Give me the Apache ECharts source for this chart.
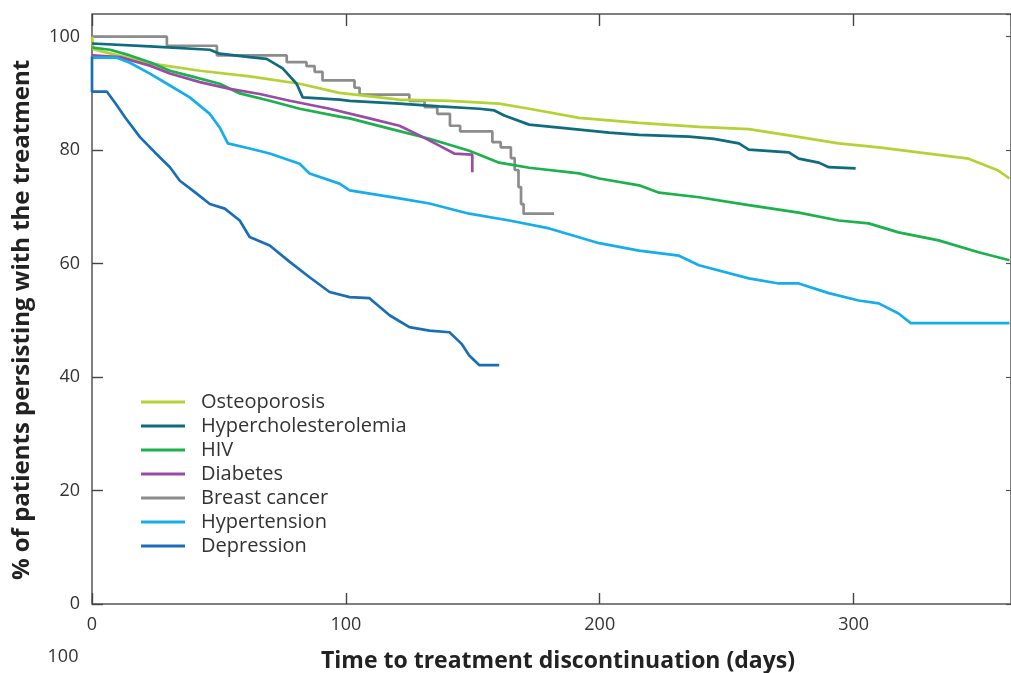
<!DOCTYPE html>
<html><head><meta charset="utf-8">
<script src="https://cdn.jsdelivr.net/npm/echarts@6/dist/echarts.min.js"></script>
<style>html,body{margin:0;padding:0;background:#fff}#c{width:1011px;height:673px}</style>
</head><body><div id="c"></div><script>
// ---- data (days, % persisting) ----
const seriesNames = ['Osteoporosis','Hypercholesterolemia','HIV','Diabetes','Breast cancer','Hypertension','Depression'];
const seriesColors = ['#b3d335','#0f6b7e','#1cb14c','#9b4ba6','#8c8c8c','#16aeea','#1a6eb8'];

const osteoDays = [0,0.5,3.1,22.8,42.5,62.1,81.8,97.5,121,140.8,160.4,172.2,191.9,215.5,239.1,258.7,274.5,294.1,309.9,329.5,345.3,357,361.4];
const osteoPct  = [100,97.8,97.5,95.3,94.0,93.0,91.7,90.1,88.9,88.7,88.2,87.3,85.7,84.8,84.1,83.7,82.6,81.2,80.5,79.4,78.5,76.4,75.0];

const hyperchDays = [0,22.8,46.4,50.3,62.1,68.8,75.1,80.6,83.0,97.5,101.5,121.1,136.8,152.6,158.5,162.4,172.2,188.0,203.7,215.5,235.2,245,254.8,258.7,274.5,278.4,286.3,290.2,300.8];
const hyperchPct  = [98.8,98.3,97.7,97.0,96.4,96.1,94.4,91.7,89.3,88.9,88.7,88.2,87.7,87.3,87.0,86.1,84.5,83.8,83.1,82.7,82.4,82.0,81.2,80.1,79.6,78.5,77.8,77.0,76.8];

const hivDays = [0,7.1,14.9,22.8,30.7,38.5,50.3,58.2,70,81.8,97.5,101.5,117.2,132.9,148.6,160.4,172.2,191.9,199.8,215.5,223.4,239.1,258.7,278.4,294.1,305.9,317.7,333.5,349.2,361.4];
const hivPct  = [98.1,97.7,96.7,95.5,94.0,93.1,91.7,90.0,88.7,87.3,85.9,85.6,83.8,82.0,79.9,77.8,76.9,75.9,75.0,73.8,72.5,71.7,70.3,69.0,67.6,67.1,65.5,64.1,62.0,60.6];

const diabDays = [0,11,22.8,30.7,42.5,54.3,66.1,77.9,93.6,109.3,121.1,129,136.8,142.7,149.8,149.8];
const diabPct  = [96.7,96.4,94.9,93.5,92.0,90.8,89.9,88.7,87.3,85.6,84.3,82.6,80.8,79.4,79.2,76.1];

const breastDays = [0,29.5,49.2,76.7,84.5,87.7,90.8,103.4,105.4,125,131,136,141,145,157.7,161,165,166.5,168,169,170,182];
const breastPct  = [100,98.4,96.7,95.5,94.8,93.8,92.3,91.0,89.8,88.7,87.6,86.4,84.3,83.3,81.4,80.5,78.6,76.5,73.5,70.5,68.8,68.8];

const htnDays = [0,9.8,14.9,22.8,30.7,38.5,46.4,50.3,53.5,62.1,70,81.8,85.7,97.5,101.5,121.1,132.9,148.6,164.4,180.1,199.8,215.5,231.2,239.1,258.7,270.5,278.4,290.2,302,309.9,317.7,322.5,361.4];
const htnPct  = [96.3,96.3,95.4,93.5,91.4,89.3,86.4,84.0,81.2,80.3,79.4,77.6,75.9,74.1,72.9,71.5,70.6,68.8,67.6,66.2,63.6,62.3,61.4,59.7,57.4,56.5,56.5,54.8,53.5,53.0,51.2,49.5,49.5];

const depDays = [0,0,5.9,9.0,13.0,18.9,24.8,30.7,34.6,40.5,46.4,52.3,58.2,62.1,70,77.9,85.7,93.6,101.5,109.3,117.2,125,132.9,140.8,145.5,148.6,152.6,160.4];
const depPct  = [96.5,90.3,90.3,88.4,85.8,82.3,79.6,77.0,74.6,72.6,70.5,69.7,67.6,64.7,63.2,60.3,57.6,55.0,54.1,53.9,50.9,48.8,48.2,47.9,45.9,43.8,42.1,42.1];

const xTitle = 'Time to treatment discontinuation (days)';
const yTitle = '% of patients persisting with the treatment';
const strayLabel = '100';

const allDays = [osteoDays,hyperchDays,hivDays,diabDays,breastDays,htnDays,depDays];
const allPct  = [osteoPct,hyperchPct,hivPct,diabPct,breastPct,htnPct,depPct];

const FONT = '"Open Sans", "Noto Sans", sans-serif';
const chart = echarts.init(document.getElementById('c'));

const series = seriesNames.map((n,i)=>({
  name:n, type:'line', xAxisIndex:0, yAxisIndex:0,
  data: allDays[i].map((d,k)=>[d, allPct[i][k]]),
  step: n==='Breast cancer' ? 'end' : false,
  showSymbol:false, symbol:'none',
  lineStyle:{color:seriesColors[i], width:2.7},
  itemStyle:{color:seriesColors[i]},
  z: n==='Breast cancer' ? 1 : 2,
  animation:false
}));

const tickStyle = {color:'#444', width:1.4};

chart.setOption({
  backgroundColor:'#fff',
  animation:false,
  grid:{left:92, top:14, width:920, height:590, show:true, borderColor:'#555', borderWidth:1.5, backgroundColor:'transparent'},
  legend:{
    left:141, top:390, orient:'vertical', icon:'rect', padding:0,
    itemWidth:44, itemHeight:3, itemGap:0,
    data: seriesNames,
    textStyle:{fontFamily:FONT, fontSize:20, color:'#333', lineHeight:24, padding:[0,0,0,11]}
  },
  xAxis:[{
    type:'value', min:0, max:362, interval:100, position:'bottom',
    axisLine:{show:false, onZero:false},
    axisTick:{show:true, inside:true, length:11, lineStyle:tickStyle},
    axisLabel:{fontFamily:FONT, fontSize:18, color:'#333', margin:12, showMaxLabel:false},
    splitLine:{show:false}
  },{
    type:'value', min:0, max:362, interval:100, position:'top',
    axisLine:{show:false, onZero:false},
    axisTick:{show:true, inside:true, length:12, lineStyle:tickStyle},
    axisLabel:{show:false}, splitLine:{show:false}
  }],
  yAxis:[{
    type:'value', min:0, max:104, interval:20, position:'left',
    axisLine:{show:false, onZero:false},
    axisTick:{show:true, inside:true, length:11, lineStyle:tickStyle},
    axisLabel:{fontFamily:FONT, fontSize:18, color:'#333', margin:12, showMaxLabel:false},
    splitLine:{show:false}
  },{
    type:'value', min:0, max:104, interval:20, position:'right',
    axisLine:{show:false, onZero:false},
    axisTick:{show:true, inside:true, length:5, lineStyle:{color:'#555', width:1.2}},
    axisLabel:{show:false}, splitLine:{show:false}
  }],
  graphic:[
    {type:'text', x:558, y:661, style:{text:xTitle, font:'bold 23px "Open Sans", sans-serif', fill:'#222', align:'center', verticalAlign:'middle'}},
    {type:'text', x:22, y:320, rotation:Math.PI/2, style:{text:yTitle, font:'bold 24px "Open Sans", sans-serif', fill:'#222', align:'center', verticalAlign:'middle'}},
    {type:'text', x:63, y:657, style:{text:strayLabel, font:'18px "Open Sans", sans-serif', fill:'#333', align:'center', verticalAlign:'middle'}}
  ],
  series: series
});
</script></body></html>
